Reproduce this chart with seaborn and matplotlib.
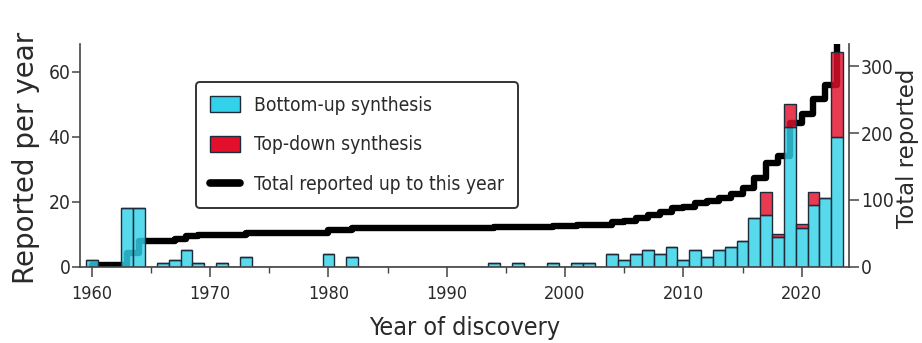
import numpy as np
import pandas as pd
import matplotlib
matplotlib.use("Agg")
import matplotlib.pyplot as plt
import seaborn as sns
from matplotlib import font_manager as fm
from matplotlib.patches import Patch
from matplotlib.lines import Line2D
from matplotlib.ticker import FixedLocator

# ---------------- data ----------------
years = [1960, 1963, 1964, 1966, 1967, 1968, 1969, 1971, 1973, 1980, 1982,
         1994, 1996, 1999, 2001, 2002,
         2004, 2005, 2006, 2007, 2008, 2009, 2010, 2011, 2012, 2013,
         2014, 2015, 2016, 2017, 2018, 2019, 2020, 2021, 2022, 2023]
bottom_up = [2, 18, 18, 1, 2, 5, 1, 1, 3, 4, 3,
             1, 1, 1, 1, 1,
             4, 2, 4, 5, 4, 6, 2, 5, 3, 5,
             6, 8, 15, 16, 9, 43, 12, 19, 21, 40]
top_down = [0, 0, 0, 0, 0, 0, 0, 0, 0, 0, 0,
            0, 0, 0, 0, 0,
            0, 0, 0, 0, 0, 0, 0, 0, 0, 0,
            0, 0, 0, 7, 1, 7, 1, 4, 0, 26]
x_ticks = [1960, 1970, 1980, 1990, 2000, 2010, 2020]
x_minor = [1965, 1975, 1985, 1995, 2005, 2015]
left_ticks = [0, 20, 40, 60]
right_ticks = [0, 100, 200, 300]
BU, TD, TOT = "Bottom-up synthesis", "Top-down synthesis", "Total reported up to this year"

CYAN = "#33d2ea"
RED = "#e3102c"
EDGE = "#1d2b3a"
TXT = "#2a2a2a"
AXC = "#444444"

# ---------------- fonts ----------------
sns.set_theme(style="white")
names = {f.name for f in fm.fontManager.ttflist}
if "Liberation Sans Narrow" in names:
    NARROW = dict(family="Liberation Sans Narrow")
else:
    NARROW = dict(family="DejaVu Sans", stretch="condensed")
plt.rcParams["font.family"] = ["DejaVu Sans"]

# ---------------- frames ----------------
df = pd.DataFrame({
    "year": years * 2,
    "n": bottom_up + top_down,
    "kind": [BU] * len(years) + [TD] * len(years),
})
all_years = np.arange(1960, 2024)
per_year = (pd.Series(np.array(bottom_up) + np.array(top_down), index=years)
            .reindex(all_years, fill_value=0))
cum = per_year.cumsum()

fig = plt.figure(figsize=(9.22, 3.43), dpi=100)
ax = fig.add_axes([0.0868, 0.223, 0.834, 0.6487])
ax2 = ax.twinx()
ax2.set_zorder(1)
ax.set_zorder(2)
ax.patch.set_visible(False)

# cumulative step line (right axis, drawn under the bars)
sns.lineplot(x=all_years, y=cum.values, ax=ax2, color="black", linewidth=4.6,
             drawstyle="steps-post", legend=False)

# stacked yearly bars (left axis)
sns.histplot(data=df, x="year", weights="n", hue="kind",
             hue_order=[TD, BU], multiple="stack", discrete=True, shrink=1,
             palette={BU: CYAN, TD: RED}, edgecolor=EDGE, linewidth=1.0,
             alpha=0.82, legend=False, ax=ax)

ax.set_xlim(1959, 2024)
ax.set_ylim(0, 68.5)
ax2.set_ylim(0, 333.7)

ax.xaxis.set_major_locator(FixedLocator(x_ticks))
ax.xaxis.set_minor_locator(FixedLocator(x_minor))
ax.set_yticks(left_ticks)
ax2.set_yticks(right_ticks)
ax.set_xticklabels([str(t) for t in x_ticks], **NARROW)
ax.set_yticklabels([str(t) for t in left_ticks], **NARROW)
ax2.set_yticklabels([str(t) for t in right_ticks], **NARROW)

ax.tick_params(axis="x", which="major", direction="out", length=7, width=1.1,
               pad=6, labelsize=13, color=AXC, labelcolor=TXT, bottom=True)
ax.tick_params(axis="x", which="minor", direction="out", length=4, width=1.0,
               color=AXC, bottom=True)
ax.tick_params(axis="y", direction="out", length=6, width=1.1, pad=1,
               labelsize=13.8, color=AXC, labelcolor=TXT, left=True)
ax2.tick_params(axis="y", direction="out", length=7, width=1.1, pad=1.5,
                labelsize=13.8, color=AXC, labelcolor=TXT, right=True)

for s in ["top", "right"]:
    ax.spines[s].set_visible(False)
for s in ["top", "left", "bottom"]:
    ax2.spines[s].set_visible(False)
for sp in [ax.spines["left"], ax.spines["bottom"], ax2.spines["right"]]:
    sp.set_color(AXC)
    sp.set_linewidth(1.2)

ax.set_xlabel("Year of discovery", fontsize=18, color=TXT, labelpad=10, **NARROW)
ax.set_ylabel("Reported per year", fontsize=20, color=TXT)
ax.yaxis.set_label_coords(-0.052, 0.49)
ax2.set_ylabel("Total reported", fontsize=16.5, color=TXT)
ax2.yaxis.set_label_coords(1.0615, 0.53)

handles = [Patch(facecolor=CYAN, edgecolor=EDGE, linewidth=1.0),
           Patch(facecolor=RED, edgecolor=EDGE, linewidth=1.0),
           Line2D([0], [0], color="black", linewidth=5.5)]
leg = ax.legend(handles, [BU, TD, TOT], loc="upper left",
                bbox_to_anchor=(196 / 922, 1 - 82 / 343),
                bbox_transform=fig.transFigure, borderaxespad=0,
                prop=dict(size=13.8, **NARROW), frameon=True, fancybox=True,
                framealpha=1, edgecolor="#333333", handlelength=1.6,
                handleheight=0.95, handletextpad=0.7, labelspacing=1.08,
                borderpad=0.72)
leg.get_frame().set_linewidth(1.4)
for t in leg.get_texts():
    t.set_color(TXT)

fig.savefig("out.png", dpi=100)
